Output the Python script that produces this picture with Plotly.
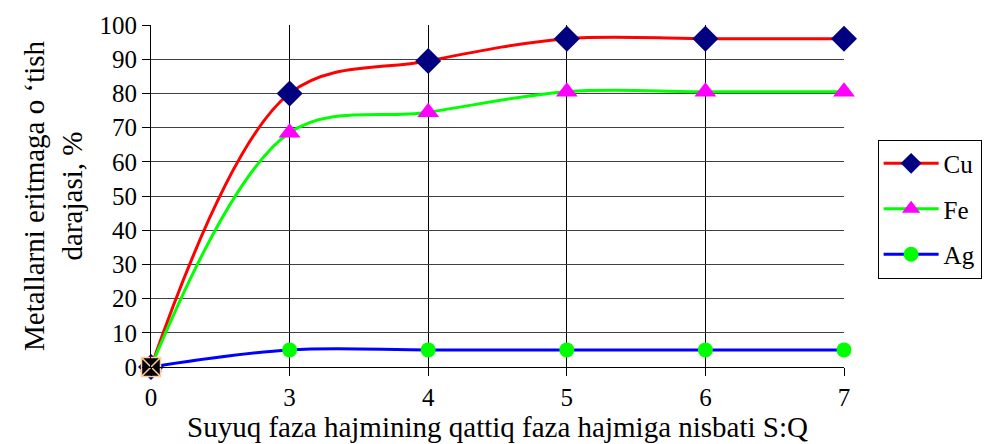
import plotly.graph_objects as go

# S:Q ratio categories and dissolution degree (%) per metal
ratios = ["0", "3", "4", "5", "6", "7"]
cu = [0, 80, 89.5, 96, 96, 96]
fe = [0, 68.5, 74.5, 80.5, 80.5, 80.5]
ag = [0, 5, 5, 5, 5, 5]
y_ticks = list(range(0, 101, 10))

xi = list(range(len(ratios)))
FONT = "Liberation Serif"

fig = go.Figure()

def add_series(name, vals, line_color, symbol, m_color, m_size, group):
    fig.add_trace(go.Scatter(
        x=xi, y=vals, name=name, mode="lines+markers",
        line=dict(color=line_color, width=3, shape="spline", smoothing=1.0),
        marker=dict(symbol=symbol, color=m_color, size=m_size, line=dict(width=0)),
        legendgroup=group, cliponaxis=False,
    ))

add_series("Cu", cu, "#FF0000", "diamond", "#000080", 20, "a")
add_series("Fe", fe, "#00FF00", "triangle-up", "#FF00FF", 19, "b")
add_series("Ag", ag, "#0000FF", "circle", "#00FF00", 15, "c")

# overlapping start point marker
fig.add_trace(go.Scatter(
    x=[xi[0]], y=[ag[0]], mode="markers", showlegend=False,
    marker=dict(symbol="square-x", color="#000000", size=19,
                line=dict(color="#FFCC99", width=1.5)),
    cliponaxis=False,
))

fig.update_layout(
    width=993, height=444,
    margin=dict(l=151, r=148, t=25, b=77),
    paper_bgcolor="white", plot_bgcolor="white",
    font=dict(family=FONT, size=24, color="black"),
    showlegend=True,
    legend=dict(
        x=1.047, y=0.665, xanchor="left", yanchor="top",
        bordercolor="black", borderwidth=1, bgcolor="white",
        font=dict(family=FONT, size=25, color="black"),
        tracegroupgap=10, itemwidth=55,
    ),
    xaxis=dict(
        range=[0, len(ratios) - 1],
        tickmode="array", tickvals=xi, ticktext=ratios,
        showgrid=True, gridcolor="black", gridwidth=1,
        showline=True, linecolor="black", linewidth=1,
        ticks="outside", ticklen=8, tickcolor="black",
        zeroline=False,
        tickfont=dict(family=FONT, size=25),
        title=dict(text="Suyuq faza hajmining qattiq faza hajmiga nisbati S:Q",
                   standoff=2, font=dict(family=FONT, size=29)),
    ),
    yaxis=dict(
        range=[0, 100],
        tickmode="array", tickvals=y_ticks,
        showgrid=True, gridcolor="#404040", gridwidth=1,
        showline=True, linecolor="black", linewidth=1,
        ticks="outside", ticklen=8, tickcolor="black",
        zeroline=False,
        tickfont=dict(family=FONT, size=25),
        title=dict(text="Metallarni eritmaga o \u2018tish<br>darajasi, %",
                   standoff=8, font=dict(family=FONT, size=29)),
    ),
)

fig.write_html("out.html")
